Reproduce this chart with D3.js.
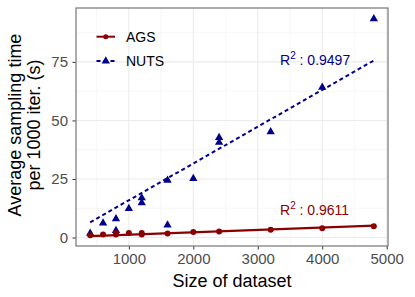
<!DOCTYPE html>
<html>
<head>
<meta charset="utf-8">
<script src="https://cdn.jsdelivr.net/npm/d3@7"></script>
<style>
  body { margin: 0; background: #fff; }
  svg { font-family: "Liberation Sans", Arial, sans-serif; display: block; }
</style>
</head>
<body>
<svg width="415" height="297"></svg>
<script>
// dataset sizes and sampling times
const agsSize = [400, 600, 800, 800, 1000, 1200, 1200, 1600, 2000, 2400, 3200, 4000, 4800];
const agsTime = [1.0, 1.3, 1.3, 1.9, 1.9, 1.9, 1.3, 1.7, 2.4, 2.6, 3.3, 4.0, 4.8];

const nutsSize = [400, 600, 800, 800, 1000, 1200, 1200, 1600, 1600, 2000, 2400, 2400, 3200, 4000, 4800];
const nutsTime = [1.8, 6.2, 8.0, 3.0, 12.4, 16.9, 14.8, 24.4, 5.3, 25.2, 42.7, 40.6, 45.1, 64.1, 93.4];

// fitted trend lines as drawn (endpoints)
const trendSize = [400, 4800];
const agsTrend = [0.6, 5.1];
const nutsTrend = [6.5, 75.6];

const xTicks = [1000, 2000, 3000, 4000, 5000];
const yTicks = [0, 25, 50, 75];
const xMinor = [500, 1500, 2500, 3500, 4500];
const yMinor = [12.5, 37.5, 62.5, 87.5];

const seriesNames = ["AGS", "NUTS"];
const r2Labels = ["0.9611", "0.9497"];

const svg = d3.select("svg");
const width = +svg.attr("width");
const height = +svg.attr("height");
const margin = { top: 8, right: 27, bottom: 51, left: 76 };
const innerWidth = width - margin.left - margin.right;
const innerHeight = height - margin.top - margin.bottom;

const ags = agsSize.map((x, i) => ({ x, y: agsTime[i] }));
const nuts = nutsSize.map((x, i) => ({ x, y: nutsTime[i] }));

// ggplot style 5% expansion
const xExt = d3.extent(agsSize.concat(nutsSize));
const yExt = d3.extent(agsTime.concat(nutsTime));
const xPad = (xExt[1] - xExt[0]) * 0.05;
const yPad = (yExt[1] - yExt[0]) * 0.05;

const xScale = d3.scaleLinear()
  .domain([xExt[0] - xPad, xExt[1] + xPad])
  .range([0, innerWidth]);
const yScale = d3.scaleLinear()
  .domain([yExt[0] - yPad, yExt[1] + yPad])
  .range([innerHeight, 0]);

const g = svg.append("g")
  .attr("transform", `translate(${margin.left},${margin.top})`);

// grid
const grid = (vals, vertical, color, w) => {
  g.append("g").selectAll("line").data(vals).enter().append("line")
    .attr("x1", d => vertical ? xScale(d) : 0)
    .attr("x2", d => vertical ? xScale(d) : innerWidth)
    .attr("y1", d => vertical ? 0 : yScale(d))
    .attr("y2", d => vertical ? innerHeight : yScale(d))
    .attr("stroke", color).attr("stroke-width", w);
};
grid(xMinor, true, "#f2f2f2", 0.6);
grid(yMinor, false, "#f2f2f2", 0.6);
grid(xTicks, true, "#ebebeb", 1.1);
grid(yTicks, false, "#ebebeb", 1.1);

// axes
const xAxis = d3.axisBottom(xScale).tickValues(xTicks).tickSize(3.5).tickPadding(3.5).tickFormat(d3.format("d"));
const yAxis = d3.axisLeft(yScale).tickValues(yTicks).tickSize(3.5).tickPadding(4.5);

const xAxisG = g.append("g").attr("transform", `translate(0,${innerHeight})`).call(xAxis);
const yAxisG = g.append("g").call(yAxis);
[xAxisG, yAxisG].forEach(a => {
  a.select(".domain").remove();
  a.selectAll(".tick line").attr("stroke", "#333").attr("stroke-width", 1);
  a.selectAll(".tick text").attr("fill", "#4d4d4d").style("font-size", "15px")
    .style("font-family", "'Liberation Sans', Arial, sans-serif");
});

// trend lines
const line = d3.line().x(d => xScale(d.x)).y(d => yScale(d.y));
const colors = ["#8B0000", "#00008B"];

g.append("path").datum(trendSize.map((x, i) => ({ x, y: agsTrend[i] }))).attr("d", line)
  .attr("fill", "none").attr("stroke", colors[0]).attr("stroke-width", 2.2);
g.append("path").datum(trendSize.map((x, i) => ({ x, y: nutsTrend[i] }))).attr("d", line)
  .attr("fill", "none").attr("stroke", colors[1]).attr("stroke-width", 2)
  .attr("stroke-dasharray", "4,3");

const tri = d3.symbol().type(d3.symbolTriangle).size(30);

g.selectAll(".nuts").data(nuts).enter().append("path")
  .attr("d", tri)
  .attr("transform", d => `translate(${xScale(d.x)},${yScale(d.y)})`)
  .attr("fill", colors[1]);

g.selectAll(".ags").data(ags).enter().append("circle")
  .attr("cx", d => xScale(d.x)).attr("cy", d => yScale(d.y))
  .attr("r", 3).attr("fill", colors[0]);

// panel border
g.append("rect").attr("width", innerWidth).attr("height", innerHeight)
  .attr("fill", "none").attr("stroke", "#808080").attr("stroke-width", 1.3);

// R2 labels
const r2 = (x, y, color, val) => {
  const t = g.append("text").attr("x", x).attr("y", y).attr("fill", color)
    .style("font-size", "14px");
  t.append("tspan").text("R");
  t.append("tspan").attr("dy", -6).style("font-size", "10px").text("2");
  t.append("tspan").attr("dy", 6).text(" : " + val);
};
r2(204, 207, colors[0], r2Labels[0]);
r2(204, 57, colors[1], r2Labels[1]);

// legend
const legend = g.append("g").attr("transform", "translate(20.5,28.7)");
seriesNames.forEach((name, i) => {
  const row = legend.append("g").attr("transform", `translate(0,${i * 24.3})`);
  row.append("line").attr("x1", 0).attr("x2", 18.5).attr("y1", 0).attr("y2", 0)
    .attr("stroke", colors[i]).attr("stroke-width", 2)
    .attr("stroke-dasharray", i === 1 ? "4,3" : null);
  if (i === 0) {
    row.append("circle").attr("cx", 9.3).attr("cy", 0).attr("r", 2.5).attr("fill", colors[0]);
  } else {
    row.append("path").attr("d", tri).attr("transform", "translate(9.3,0)").attr("fill", colors[1]);
  }
  row.append("text").attr("x", 29.5).attr("y", 5).style("font-size", "14px")
    .attr("fill", "#000").text(name);
});

// axis titles
svg.append("text")
  .attr("x", margin.left + innerWidth / 2).attr("y", 287)
  .attr("text-anchor", "middle").style("font-size", "18px").text("Size of dataset");

const yTitle = svg.append("text")
  .attr("transform", `translate(21,125) rotate(-90)`)
  .attr("text-anchor", "middle").style("font-size", "18px");
yTitle.append("tspan").attr("x", 0).attr("y", 0).text("Average sampling time");
yTitle.append("tspan").attr("x", 0).attr("y", 19).text("per 1000 iter. (s)");
</script>
</body>
</html>
